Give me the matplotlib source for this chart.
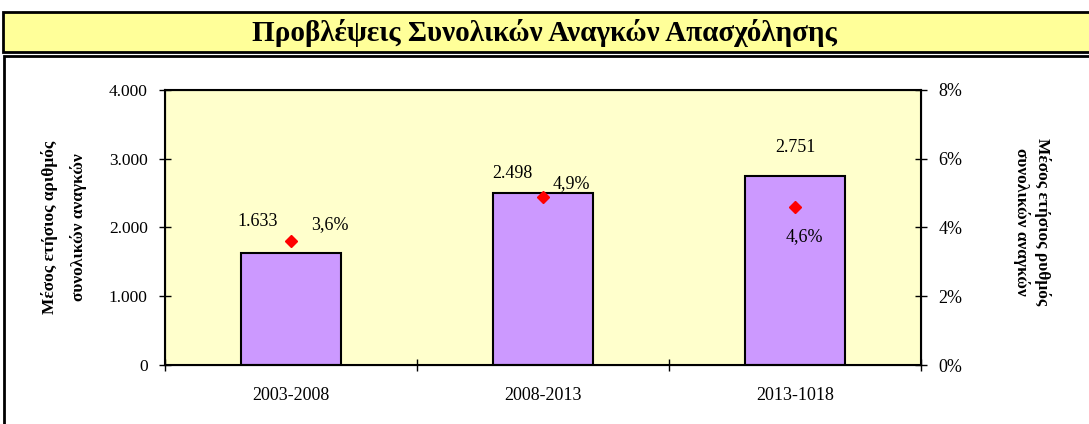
import matplotlib.pyplot as plt
import matplotlib.patches as mpatches
from matplotlib.ticker import FuncFormatter, FixedLocator

plt.rcParams['font.family'] = ['Liberation Serif', 'DejaVu Serif']

# Δεδομένα
periods = ['2003-2008', '2008-2013', '2013-1018']
needs = [1633, 2498, 2751]          # μέσος ετήσιος αριθμός συνολικών αναγκών
growth = [3.6, 4.9, 4.6]            # μέσος ετήσιος ρυθμός (%)

# μετατόπιση ετικετών σε pixels (dx, dy)
need_offsets = [(-33, 31), (-31, 20), (0, 28)]
growth_offsets = [(39, 17), (28, 13), (9, -30)]

W, H = 1089, 424
fig = plt.figure(figsize=(W / 100, H / 100), dpi=100)

# πλαίσιο τίτλου
fig.patches.append(mpatches.Rectangle((3 / W, 1 - 52 / H), 1.2, 40 / H,
                                      transform=fig.transFigure, facecolor='#FFFF99',
                                      edgecolor='black', linewidth=2, zorder=-2))
fig.text(0.5, 1 - 33 / H, 'Προβλέψεις Συνολικών Αναγκών Απασχόλησης',
         ha='center', va='center', fontsize=21, fontweight='bold')

# πλαίσιο γραφήματος
fig.patches.append(mpatches.Rectangle((4 / W, -0.2), 1.2, 1.2 - 56 / H,
                                      transform=fig.transFigure, facecolor='white',
                                      edgecolor='black', linewidth=2, zorder=-2))

ax = fig.add_axes([165 / W, 1 - 365 / H, (921 - 165) / W, (365 - 90) / H])
ax.set_facecolor('#FFFFCC')
x = range(len(periods))
ax.bar(x, needs, width=0.4, color='#CC99FF', edgecolor='black', linewidth=1.5, zorder=2)

ax.set_xlim(-0.5, len(periods) - 0.5)
ax.set_ylim(0, 4000)
ax.set_yticks([0, 1000, 2000, 3000, 4000])
ax.yaxis.set_major_formatter(FuncFormatter(lambda v, p: f'{int(v):,}'.replace(',', '.')))
ax.set_xticks(list(x))
ax.set_xticklabels(periods)
ax.xaxis.set_minor_locator(FixedLocator([i - 0.5 for i in range(len(periods) + 1)]))
ax.tick_params(axis='x', which='major', length=0, pad=16, labelsize=13)
ax.tick_params(axis='x', which='minor', direction='inout', length=9, width=1)
ax.tick_params(axis='y', direction='inout', length=9, width=1, labelsize=12.5, pad=8)
for s in ax.spines.values():
    s.set_linewidth(1.5)

ax.set_ylabel('Μέσος ετήσιος αριθμός\nσυνολικών αναγκών', fontsize=12.5,
              fontweight='bold', linespacing=1.85, va='center')
ax.yaxis.set_label_coords(-(165 - 64) / (921 - 165), 0.5)

ax2 = ax.twinx()
ax2.set_ylim(0, 8)
ax2.set_yticks([0, 2, 4, 6, 8])
ax2.yaxis.set_major_formatter(FuncFormatter(lambda v, p: f'{int(v)}%'))
ax2.tick_params(axis='y', direction='inout', length=9, width=1, labelsize=13, pad=8)
ax2.plot(list(x), growth, linestyle='none', marker='D', color='red', markersize=6, zorder=3)
ax2.set_ylabel('Μέσος ετήσιος ρυθμός\nσυνολικών αναγκών', fontsize=12.5,
               fontweight='bold', rotation=270, linespacing=1.3,
               va='center', ha='center')
ax2.yaxis.set_label_coords(1 + (1032 - 921) / (921 - 165), 0.52)

for i, v in enumerate(needs):
    dx, dy = need_offsets[i]
    ax.annotate(f'{v:,}'.replace(',', '.'), (i, v), xytext=(dx, dy),
                textcoords='offset pixels', ha='center', va='center', fontsize=13)
for i, g in enumerate(growth):
    dx, dy = growth_offsets[i]
    ax2.annotate(f'{g:.1f}%'.replace('.', ','), (i, g), xytext=(dx, dy),
                 textcoords='offset pixels', ha='center', va='center', fontsize=13)

fig.savefig('out.png', dpi=100)
